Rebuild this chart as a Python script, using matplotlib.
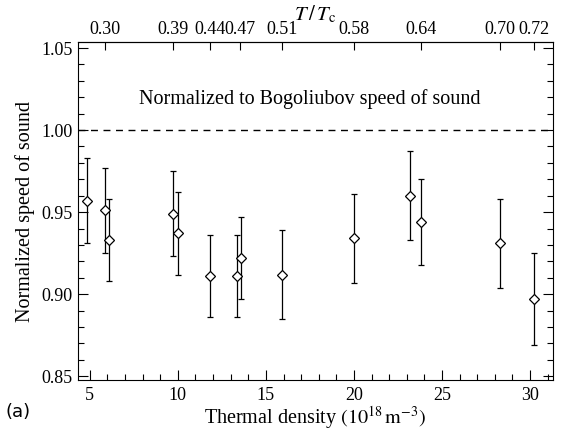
import numpy as np
import matplotlib.pyplot as plt
from matplotlib.ticker import MultipleLocator

# data
density = [4.83, 5.85, 6.08, 9.7, 10.0, 11.8, 13.35, 13.6, 15.9, 20.0, 23.2, 23.8, 28.3, 30.2]
speed = [0.957, 0.951, 0.933, 0.949, 0.937, 0.911, 0.911, 0.922, 0.912, 0.934, 0.960, 0.944, 0.931, 0.897]
speed_err = [0.026, 0.026, 0.025, 0.026, 0.025, 0.025, 0.025, 0.025, 0.027, 0.027, 0.027, 0.026, 0.027, 0.028]

top_pos = [5.85, 9.7, 11.8, 13.5, 15.9, 20.0, 23.8, 28.3, 30.2]
top_labels = ['0.30', '0.39', '0.44', '0.47', '0.51', '0.58', '0.64', '0.70', '0.72']

plt.rcParams['font.family'] = ['Liberation Serif', 'DejaVu Serif']
plt.rcParams['mathtext.fontset'] = 'stix'


def main():
    fig = plt.figure(figsize=(5.64, 4.37), dpi=100)
    ax = fig.add_axes([0.138, 0.130, 0.8425, 0.774])

    ax.errorbar(density, speed, yerr=speed_err, fmt='D', mfc='white', mec='black',
                ms=5, mew=0.9, ecolor='black', elinewidth=0.9, capsize=2, capthick=0.9)
    ax.axhline(1.0, color='black', ls='--', lw=1.0, dashes=(5, 4))
    ax.text(17.5, 1.019, 'Normalized to Bogoliubov speed of sound', ha='center', va='center',
            fontsize=14.5)

    ax.set_xlim(4.32, 31.3)
    ax.set_ylim(0.8476, 1.0537)
    ax.xaxis.set_major_locator(MultipleLocator(5))
    ax.xaxis.set_minor_locator(MultipleLocator(1))
    ax.yaxis.set_minor_locator(MultipleLocator(0.01))
    ax.set_yticks([0.85, 0.90, 0.95, 1.00, 1.05])
    ax.set_yticklabels(['0.85', '0.90', '0.95', '1.00', '1.05'])
    ax.tick_params(which='both', direction='in', right=True, top=False, labelsize=13)
    ax.tick_params(which='major', length=7, width=0.8)
    ax.tick_params(which='minor', length=4, width=0.8)
    ax.tick_params(axis='x', pad=5)

    ax.set_xlabel(r'Thermal density $\left(10^{18}\,\mathrm{m}^{-3}\right)$', fontsize=14.5, labelpad=0)
    ax.set_ylabel('Normalized speed of sound', fontsize=14.5, labelpad=5)

    top = ax.secondary_xaxis('top')
    top.set_xticks(top_pos)
    top.set_xticklabels(top_labels)
    top.tick_params(direction='in', length=6, width=0.8, labelsize=13, pad=3)
    top.set_xlabel(r'$T\,/\,T_{\mathrm{c}}$', fontsize=15, labelpad=0)

    fig.text(0.01, 0.057, '(a)', fontsize=13, family='DejaVu Sans', va='center')

    fig.savefig('out.png', dpi=100)


if __name__ == '__main__':
    main()
